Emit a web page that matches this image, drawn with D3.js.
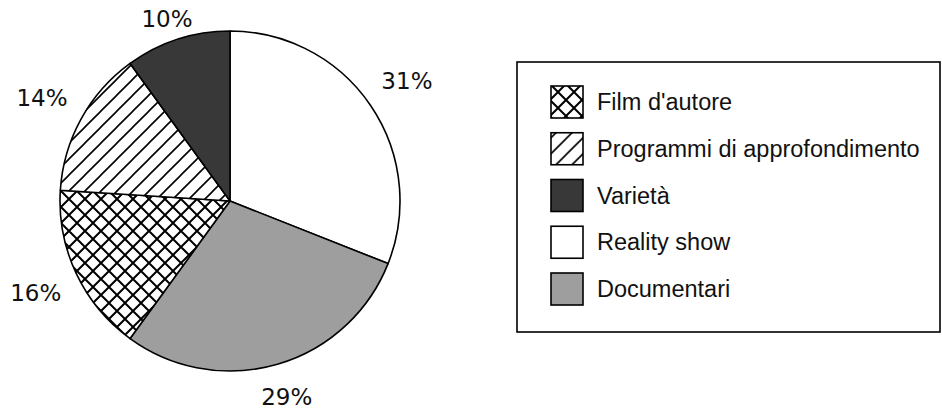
<!DOCTYPE html>
<html>
<head>
<meta charset="utf-8">
<script src="https://cdn.jsdelivr.net/npm/d3@7"></script>
<style>
  body { margin: 0; background: #fff; }
  svg { display: block; }
</style>
</head>
<body>
<svg width="942" height="411"></svg>
<script>
// slices clockwise from 12 o'clock
const categories = ["Reality show", "Documentari", "Film d'autore", "Programmi di approfondimento", "Varietà"];
const values = [31, 29, 16, 14, 10];
const legendOrder = ["Film d'autore", "Programmi di approfondimento", "Varietà", "Reality show", "Documentari"];

let width = 942,
  height = 411,
  cx = 230,
  cy = 201,
  radius = 170,
  labelGap = 188,
  plotTop = 10;

let svg = d3.select("svg");
let defs = svg.append("defs");

// crosshatch (Film d'autore)
let cross = defs.append("pattern")
  .attr("id", "cross")
  .attr("patternUnits", "userSpaceOnUse")
  .attr("x", 551).attr("y", 86)
  .attr("width", 16).attr("height", 16);
cross.append("rect").attr("width", 16).attr("height", 16).attr("fill", "#fff");
cross.append("path")
  .attr("d", "M0,0L16,16M16,0L0,16M-8,8L8,-8M8,24L24,8M-8,8L8,24M8,-8L24,8")
  .attr("stroke", "#000").attr("stroke-width", 2);

// diagonal lines (Programmi di approfondimento)
let diag = defs.append("pattern")
  .attr("id", "diag")
  .attr("patternUnits", "userSpaceOnUse")
  .attr("x", 559).attr("y", 86)
  .attr("width", 16).attr("height", 16);
diag.append("rect").attr("width", 16).attr("height", 16).attr("fill", "#fff");
diag.append("path")
  .attr("d", "M-4,20L20,-4M-4,4L4,-4M12,20L20,12")
  .attr("stroke", "#000").attr("stroke-width", 1.6);

let fill = d3.scaleOrdinal()
  .domain(categories)
  .range(["#ffffff", "#9e9e9e", "url(#cross)", "url(#diag)", "#383838"]);

let data = categories.map((c, i) => ({ name: c, value: values[i] }));

let pie = d3.pie().sort(null).value(d => d.value);
let arc = d3.arc().innerRadius(0).outerRadius(radius);

let g = svg.append("g").attr("transform", `translate(${cx},${cy})`);

g.selectAll("path.slice")
  .data(pie(data))
  .enter()
  .append("path")
  .attr("class", "slice")
  .attr("d", arc)
  .attr("fill", d => fill(d.data.name))
  .attr("stroke", "#000")
  .attr("stroke-width", 1.6)
  .attr("stroke-linejoin", "round");

/* --------- LABELS --------- */
// label box sits just outside the rim along the slice's mid direction
let labels = g.selectAll("text.pct")
  .data(pie(data))
  .enter()
  .append("text")
  .attr("class", "pct")
  .attr("font-family", "'DejaVu Sans', Verdana, sans-serif")
  .attr("font-size", 23)
  .attr("fill", "#111")
  .attr("text-anchor", "middle")
  .text(d => d.data.value + "%");

labels.each(function (d) {
  let bb = this.getBBox();
  let w = bb.width / 2, h = 8.5;
  let a = (d.startAngle + d.endAngle) / 2;
  let ux = Math.sin(a), uy = -Math.cos(a);
  let r = labelGap + Math.abs(ux) * w + Math.abs(uy) * h;
  let x = ux * r;
  let y = uy * r;
  // keep inside the plot area
  y = Math.max(y, plotTop - cy + h);
  d3.select(this).attr("x", x).attr("y", y + h);
});

/* --------- LEGEND --------- */
let legend = svg.append("g").attr("class", "legend");

legend.append("rect")
  .attr("x", 517).attr("y", 62)
  .attr("width", 423).attr("height", 270)
  .attr("fill", "none")
  .attr("stroke", "#000")
  .attr("stroke-width", 1.6);

let rowY = d3.scalePoint()
  .domain(legendOrder)
  .range([86, 273]);

let items = legend.selectAll("g.item")
  .data(legendOrder)
  .enter()
  .append("g")
  .attr("class", "item")
  .attr("transform", d => `translate(551,${rowY(d)})`);

items.append("rect")
  .attr("width", 32).attr("height", 32)
  .attr("fill", d => fill(d))
  .attr("stroke", "#000")
  .attr("stroke-width", 1.6);

items.append("text")
  .attr("x", 46)
  .attr("y", 24)
  .attr("font-family", "'Liberation Sans', Arial, sans-serif")
  .attr("font-size", 23.5)
  .attr("fill", "#111")
  .text(d => d);
</script>
</body>
</html>
